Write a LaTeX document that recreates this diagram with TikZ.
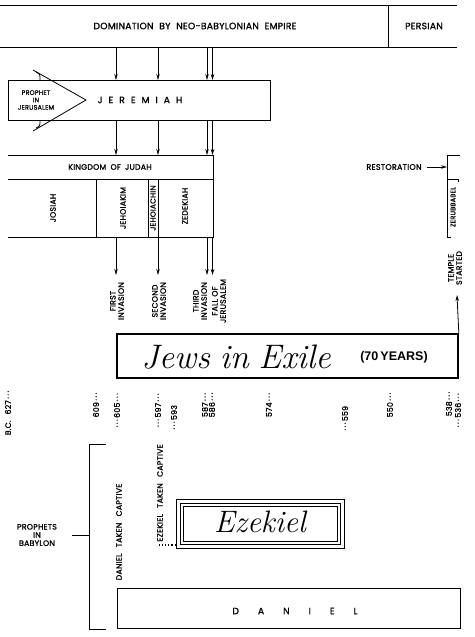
\documentclass[tikz,border=0pt]{standalone}
\usepackage{fontspec}
\newfontfamily\chartfont{Poppins}[FakeBold=1.2, LetterSpace=3]
\newfontfamily\yearsfont{Liberation Sans}
\usetikzlibrary{arrows.meta}

\newcommand{\lead}{\hspace{1.5pt}·\hspace{1.5pt}·\hspace{1.5pt}·\hspace{1.5pt}}
\newcommand{\spaced}{\hspace{6pt}}
\newcommand{\wide}{\hspace{19pt}}

\tikzset{
  >={Stealth[length=6pt,width=3.5pt]},
  caps/.style={font=\chartfont\fontsize{7.8}{8.2}\selectfont, inner sep=0pt, align=center},
  bigcaps/.style={font=\chartfont\fontsize{9.2}{10}\selectfont, inner sep=0pt},
  upcaps/.style={caps, rotate=90},
  datelabel/.style={font=\chartfont\fontsize{7.8}{8}\selectfont, inner sep=0pt, rotate=90},
  scriptname/.style={font=\fontsize{34}{35}\selectfont\itshape, inner sep=0pt},
  plainbox/.style={draw, inner sep=0pt, anchor=north west},
}

\begin{document}
\begin{tikzpicture}[x=1pt, y=-1pt, line width=0.8pt]
    \useasboundingbox (0,0) rectangle (474,637);

    % Empires
    \draw (0,5) -- (457,5);
    \draw (0,47) -- (457,47);
    \draw (388,5) -- (388,47);
    \node[bigcaps] (domination) at (195,26) {DOMINATION\hspace{3pt} BY\hspace{3pt} NEO-BABYLONIAN\hspace{3pt} EMPIRE};
    \node[bigcaps] (persian) at (424,26) {PERSIAN};

    % Where the invasions start
    \coordinate (inv1) at (116,47);
    \coordinate (inv2) at (158,47);
    \coordinate (inv3) at (207,47);
    \coordinate (fall) at (212.5,47);

    % Jeremiah
    \node[plainbox, minimum width=262pt, minimum height=40pt] (jerbox) at (8,80) {};
    \node[bigcaps] (jeremiah) at (140,100) {J\spaced E\spaced R\spaced E\spaced M\spaced I\spaced A\spaced H};
    \node[caps, font=\chartfont\fontsize{6.4}{7.4}\selectfont] (prophet) at (36,100) {PROPHET\\IN\\JERUSALEM};
    \draw (33,70) -- (86,100) -- (33,131);
    \draw (36,72) .. controls (40,74) .. (40,80);
    \draw (36,128) .. controls (40,126) .. (40,120);

    % Kingdom of Judah
    \coordinate (judahtop) at (8,155);
    \coordinate (judahbot) at (8,237);
    \draw (judahtop) -- (213,155) -- (213,237) -- (judahbot);
    \draw (8,179) -- (213,179);
    \draw (96,179) -- (96,237);
    \draw (148,179) -- (148,237);
    \draw (158,179) -- (158,237);
    \node[caps] (judah) at (110,167) {KINGDOM\hspace{2pt} OF\hspace{2pt} JUDAH};
    \node[upcaps] (josiah) at (53,208) {JOSIAH};
    \node[upcaps] (jehoiakim) at (123,208) {JEHOIAKIM};
    \node[upcaps, font=\chartfont\fontsize{7.4}{7.5}\selectfont] (jehoiachin) at (153,208) {JEHOIACHIN};
    \node[upcaps] (zedekiah) at (185,206) {ZEDEKIAH};

    % Invasions
    \coordinate (arrowend) at (0,275);
    \foreach \c in {inv1,inv2,inv3,fall} {
        \draw[->] (\c) -- (\c |- jerbox.north);
        \draw[->] (\c |- jerbox.south) -- (\c |- judahtop);
        \draw[->] (\c |- judahbot) -- (\c |- arrowend);
    }
    \node[upcaps] (first) at (117,301) {FIRST\\INVASION};
    \node[upcaps] (second) at (159,301) {SECOND\\INVASION};
    \node[upcaps] (third) at (200,301) {THIRD\\INVASION};
    \node[upcaps] (fallofjer) at (219,301) {FALL OF\\JERUSALEM};

    % Restoration
    \node[caps, font=\chartfont\fontsize{8}{8.5}\selectfont] (restoration) at (394,167) {RESTORATION};
    \coordinate (restore) at (447,167);
    \draw[->] ([xshift=5pt]restoration.east) -- (restore);
    \draw (460,155) -- (447,155) -- (447,237) -- (451,237);
    \draw (447,179) -- (458,179) -- (458,182);
    \node[upcaps, font=\chartfont\fontsize{6.6}{7.5}\selectfont] (zerubbabel) at (453,207) {ZERUBBABEL};
    \node[upcaps] (temple) at (455,268) {TEMPLE\\STARTED};

    % Exile
    \node[plainbox, line width=1.8pt, minimum width=341pt, minimum height=44pt] (exilebox) at (116,333) {};
    \node[scriptname] (exile) at (236,357) {Jews\hspace{10pt}in\hspace{10pt}Exile};
    \node[font=\yearsfont\bfseries\fontsize{12.5}{13}\selectfont, inner sep=0pt] (years) at (394,357) {(70\,YEARS)};
    \coordinate (templefoot) at (457,295);
    \draw[->] (exilebox.north east) -- (templefoot);

    % Dates
    \foreach \yr/\x/\y/\t in {627/8/413/B.C.\hspace{6pt}627\lead,
                              609/96/405/609\lead,
                              605/117/411/\lead605\lead,
                              597/158/411/\lead597\lead,
                              593/174/418/\lead593,
                              587/205/405/587\lead,
                              586/212/405/586\lead,
                              574/269/405/574\lead,
                              559/345/419/\lead559,
                              550/390/405/550\lead,
                              538/449/404/538\lead,
                              536/458/411/\lead536\lead}
        \node[datelabel] (d\yr) at (\x,\y) {\t};

    % Prophets in Babylon
    \draw (106,444) -- (89,444) -- (89,629) -- (106,629);
    \draw (72,535) -- (89,535);
    \node[caps] (prophets) at (37,535) {PROPHETS\\IN\\BABYLON};
    \node[upcaps] (danielcapt) at (119,532) {DANIEL\hspace{4pt} TAKEN\hspace{4pt} CAPTIVE};
    \node[upcaps] (ezekielcapt) at (160,493) {EZEKIEL\hspace{4pt} TAKEN\hspace{4pt} CAPTIVE};

    % Ezekiel
    \node[plainbox, minimum width=168pt, minimum height=49pt] (ezekielbox) at (176,499) {};
    \draw ([shift={(4,4)}]ezekielbox.north west) rectangle ([shift={(-4,-4)}]ezekielbox.south east);
    \draw ([shift={(7,7)}]ezekielbox.north west) rectangle ([shift={(-7,-7)}]ezekielbox.south east);
    \node[scriptname, font=\fontsize{31}{32}\selectfont\itshape] (ezekiel) at (260,522) {Ezekiel};
    \coordinate (ezlead) at (159,545);
    \draw[dotted, line width=1.1pt] (ezlead) -- (ezlead -| ezekielbox.west);

    % Daniel
    \node[bigcaps] (daniel) at (295,611) {D\wide A\wide N\wide I\wide E\wide L};
    \node[plainbox, minimum width=343pt, minimum height=40pt] (danielbox) at (117,588) {};

\end{tikzpicture}
\end{document}
